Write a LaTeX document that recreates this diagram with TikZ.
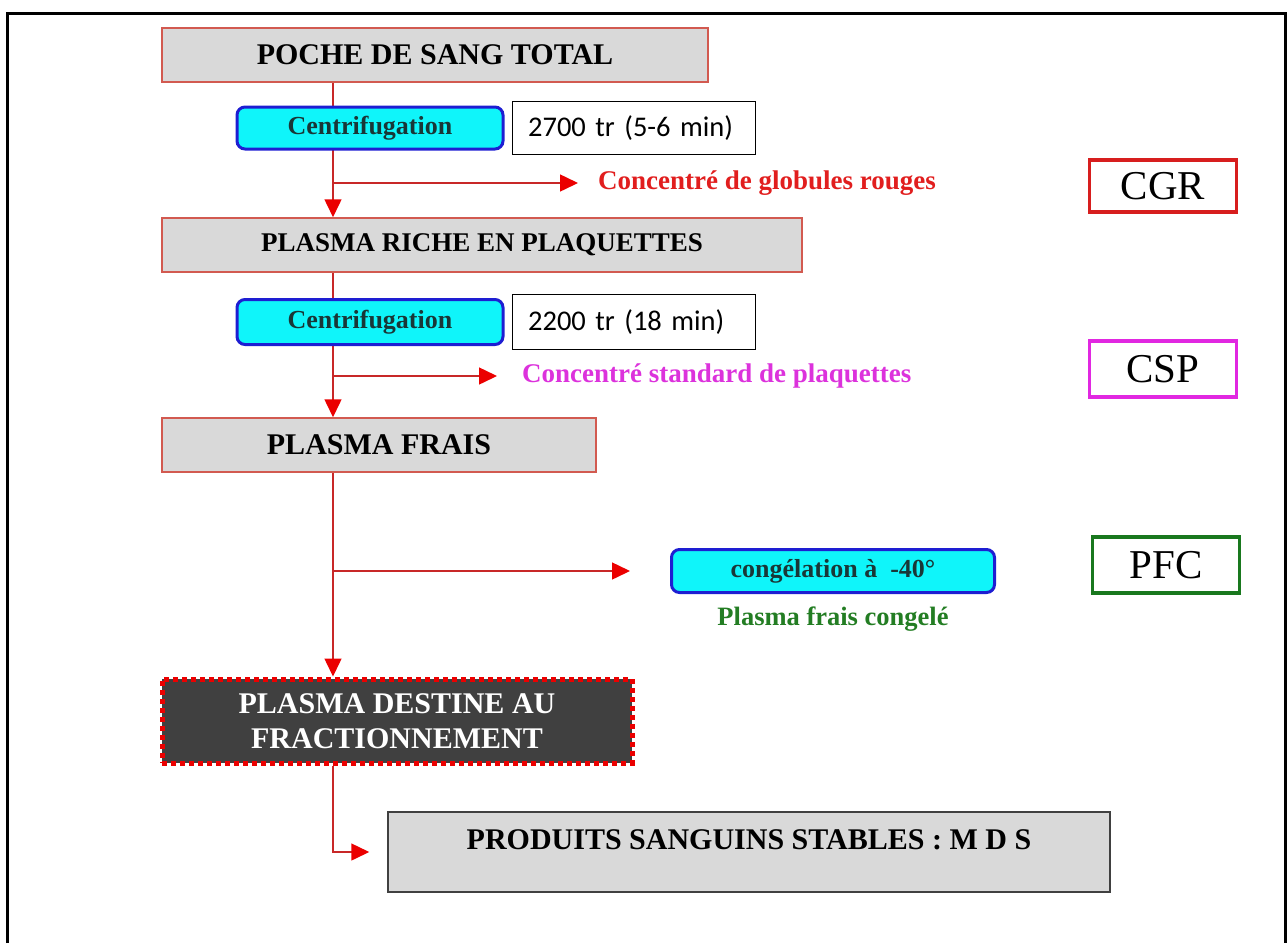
\documentclass[tikz,border=0pt]{standalone}
\usepackage{fontspec}
\setmainfont{Liberation Serif}
\newfontfamily\calib{Carlito}
\usepackage{tikz}
\usetikzlibrary{positioning}
\usetikzlibrary{calc}
\usetikzlibrary{backgrounds}
\usetikzlibrary{arrows.meta}

\definecolor{spinered}{RGB}{200,40,40}
\definecolor{tipred}{RGB}{235,0,0}
\definecolor{boxline}{RGB}{210,90,80}
\definecolor{boxgrey}{RGB}{217,217,217}
\definecolor{centfill}{RGB}{15,245,250}
\definecolor{centline}{RGB}{30,30,210}
\definecolor{centtext}{RGB}{25,55,55}
\definecolor{cgrred}{RGB}{215,30,30}
\definecolor{cspmag}{RGB}{225,40,225}
\definecolor{pfcgreen}{RGB}{25,120,30}
\definecolor{labelred}{RGB}{225,30,30}
\definecolor{labelmag}{RGB}{220,50,220}
\definecolor{labelgreen}{RGB}{35,125,35}
\definecolor{darkbox}{RGB}{64,64,64}

\begin{document}
\begin{tikzpicture}[
    x=1pt, y=-1pt,
    stage/.style={rectangle, draw=boxline, line width=1.5pt, fill=boxgrey, inner sep=0pt, font=\bfseries\fontsize{30}{36}\selectfont},
    fracbox/.style={rectangle, draw=tipred, line width=5pt, dash pattern=on 5pt off 4pt, fill=darkbox, text=white, align=center, inner sep=0pt, font=\bfseries\fontsize{30}{35}\selectfont},
    cent/.style={rectangle, rounded corners=8pt, draw=centline, line width=3pt, fill=centfill, text=centtext, inner sep=0pt, font=\bfseries\fontsize{26}{30}\selectfont},
    note/.style={rectangle, draw=black, line width=1.2pt, fill=white, inner xsep=16pt, inner ysep=0pt, text width=211pt, align=left, font=\calib\fontsize{28.5}{34}\selectfont},
    prod/.style={rectangle, line width=3.5pt, fill=white, minimum width=147, inner sep=0pt, font=\fontsize{41}{48}\selectfont},
    lbl/.style={inner sep=0pt, font=\bfseries\fontsize{27}{32}\selectfont},
    spine/.style={draw=spinered, line width=1.5pt},
    arrow/.style={spine, -{Triangle[length=18pt, width=17pt, color=tipred]}}
]
\useasboundingbox (0,0) rectangle (1288,943);

% Outer frame
\draw[line width=3pt] (7,943) -- (7,13) -- (1285,13) -- (1285,943);

% Main stages
\node[stage, minimum width=546, minimum height=54] (poche) at (435,55) {POCHE DE SANG TOTAL};
\node[stage, minimum width=640, minimum height=54, font=\bfseries\fontsize{27}{32}\selectfont] (prp) at (482,245) {PLASMA RICHE EN PLAQUETTES};
\node[stage, minimum width=434, minimum height=54] (pfrais) at (379,445) {PLASMA FRAIS};
\node[fracbox, minimum width=470, minimum height=84] (pdf) at (397,721) {PLASMA DESTINE AU\\FRACTIONNEMENT};
\node[stage, draw=darkbox, minimum width=722, minimum height=80, text depth=24pt] (mds) at (749,852) {PRODUITS SANGUINS STABLES : M D S};

% Spine of the flow
\coordinate (sp) at (333,0);

% Side products
\node[lbl, text=labelred, anchor=west] (lcgr) at (598,183) {Concentré de globules rouges};
\node[lbl, text=labelmag, anchor=west] (lcsp) at (522,376) {Concentré standard de plaquettes};

% Centrifugation steps
\node[cent, minimum width=266, minimum height=42] (cent1) at (370,128) {Centrifugation};
\node[note, minimum height=53, right=7pt of cent1] (note1) {2700 tr (5-6 min)};
\node[cent, minimum width=266, minimum height=45] (cent2) at (370,322) {Centrifugation};
\node[note, minimum height=55, right=7pt of cent2] (note2) {2200 tr (18 min)};

% Freezing
\node[cent, minimum width=323, minimum height=43] (cong) at (833,571) {congélation à~~-40°};
\node[lbl, text=labelgreen, below=13pt of cong, font=\bfseries\fontsize{26.5}{32}\selectfont] (lpfc) {Plasma frais congelé};

% Product codes
\node[prod, draw=cgrred, minimum height=52] (cgr) at (1163,186) {CGR};
\node[prod, draw=cspmag, minimum height=56] (csp) at (1163,369) {CSP};
\node[prod, draw=pfcgreen, minimum height=56] (pfc) at (1166,565) {PFC};

% Arrows
\begin{scope}[on background layer]
\draw[arrow] (poche.south -| sp) -- (prp.north -| sp);
\draw[arrow] (prp.south -| sp) -- (pfrais.north -| sp);
\draw[arrow] (pfrais.south -| sp) -- (pdf.north -| sp);
\draw[arrow, shorten >=18pt] (pdf.south -| sp) |- (mds.west);
\draw[arrow, shorten >=20pt] (lcgr.west -| sp) -- (lcgr.west);
\draw[arrow, shorten >=25pt] (lcsp.west -| sp) -- (lcsp.west);
\draw[arrow, shorten >=40pt] (cong.west -| sp) -- (cong.west);
\end{scope}
\end{tikzpicture}
\end{document}
